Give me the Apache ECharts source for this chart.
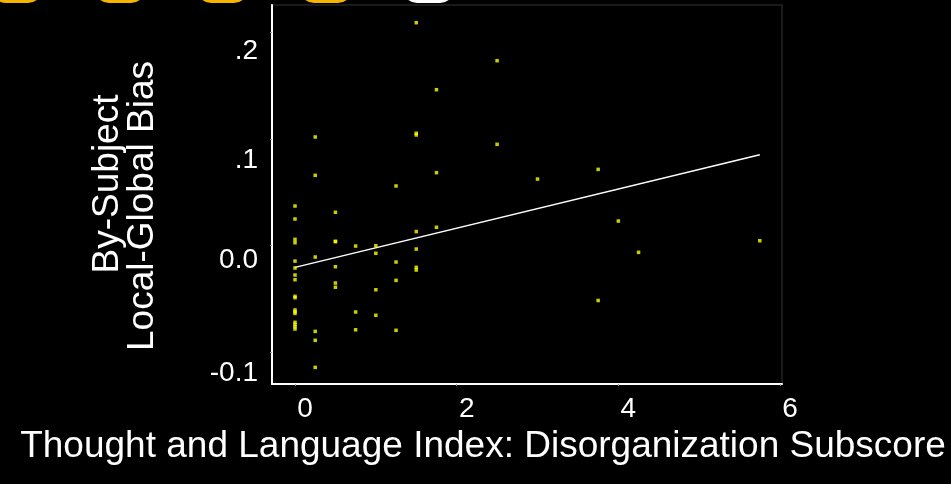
<!DOCTYPE html>
<html>
<head>
<meta charset="utf-8">
<style>
  html, body { margin: 0; padding: 0; background: #000; }
  #chart { width: 951px; height: 484px; }
</style>
<script src="https://cdn.jsdelivr.net/npm/echarts@6/dist/echarts.min.js"></script>
</head>
<body>
<div id="chart"></div>
<script>
// Disorganization subscore per subject (x) and that subject's local-global bias (y)
const disorgScore = [
  0, 0, 0, 0, 0, 0, 0, 0, 0, 0, 0, 0, 0, 0, 0, 0, 0,
  0.25, 0.25, 0.25, 0.25, 0.25, 0.25,
  0.5, 0.5, 0.5, 0.5, 0.5, 0.5,
  0.75, 0.75, 0.75,
  1, 1, 1, 1,
  1.25, 1.25, 1.25, 1.25,
  1.5, 1.5, 1.5, 1.5, 1.5, 1.5, 1.5,
  1.75, 1.75, 1.75,
  2.5, 2.5,
  3,
  3.75, 3.75,
  4,
  4.25,
  5.75
];
const globalBias = [
  0.0371, 0.0249, 0.0058, 0.0026, -0.0146, -0.0211, -0.0277, -0.0321, -0.0477, -0.0490,
  -0.0605, -0.0622, -0.0637, -0.0721, -0.0742, -0.0763, -0.0784,
  0.1019, 0.0659, -0.0108, -0.0806, -0.0890, -0.1144,
  0.0312, 0.0040, 0.0036, -0.0199, -0.0352, -0.0392,
  -0.0005, -0.0624, -0.0791,
  -0.0002, -0.0073, -0.0415, -0.0655,
  0.0559, -0.0155, -0.0327, -0.0796,
  0.2092, 0.1054, 0.1038, 0.0131, -0.0033, -0.0205, -0.0230,
  0.1463, 0.0684, 0.0171,
  0.1735, 0.0950,
  0.0624,
  0.0715, -0.0516,
  0.0230,
  -0.0064,
  0.0045
];

// Least-squares fit line, drawn across the observed score range
const fitX = [0, 5.75];
const fitY = [-0.0205, 0.0853];

const xTicks = [0, 2, 4, 6];
const yTicks = [-0.1, 0, 0.1, 0.2];
const yTickLabels = ['-0.1', '0.0', '.1', '.2'];

const points = disorgScore.map((x, i) => [x, globalBias[i]]);
const fitLine = fitX.map((x, i) => [x, fitY[i]]);

const FONT = "'Liberation Sans', Arial, Helvetica, sans-serif";

// per-label vertical nudges for the y tick labels (rich padding, px)
const yLabelStyle = {
  m0: { padding: [42, 0, 0, 0] },
  m1: { padding: [30, 0, 0, 0] },
  m2: { padding: [42, 0, 0, 0] },
  m3: { padding: [38, 0, 0, 0] }
};

const chart = echarts.init(document.getElementById('chart'), null, { renderer: 'canvas' });

chart.setOption({
  backgroundColor: '#000',
  animation: false,
  grid: {
    left: 272, right: 169, top: 5, bottom: 100,
    show: true, borderColor: '#1a1a1a', borderWidth: 2, backgroundColor: 'transparent'
  },
  xAxis: {
    type: 'value',
    min: -0.2846, max: 6.0247,
    splitLine: { show: false },
    axisLine: { show: true, onZero: false, lineStyle: { color: '#fff', width: 2 } },
    axisTick: { show: true, customValues: xTicks, length: 2, lineStyle: { color: '#999', width: 1 } },
    axisLabel: {
      customValues: xTicks,
      color: '#fff', fontFamily: FONT, fontSize: 28, margin: 11,
      padding: [0, 0, 0, 20],
      formatter: v => String(v)
    }
  },
  yAxis: {
    type: 'value',
    min: -0.1300, max: 0.2258,
    splitLine: { show: false },
    axisLine: { show: true, onZero: false, lineStyle: { color: '#fff', width: 2 } },
    axisTick: { show: true, customValues: yTicks, length: 2, lineStyle: { color: '#999', width: 1 } },
    axisLabel: {
      customValues: yTicks,
      color: '#fff', fontFamily: FONT, fontSize: 28, margin: 14,
      formatter: v => {
        const idx = yTicks.findIndex(t => Math.abs(t - v) < 1e-9);
        return '{m' + idx + '|' + yTickLabels[idx] + '}';
      },
      rich: yLabelStyle
    }
  },
  graphic: [
    // slide buttons peeking in along the top edge
    { type: 'rect', shape: { x: -8, y: -27, width: 50, height: 30, r: 14 }, style: { fill: '#f5b400' } },
    { type: 'rect', shape: { x: 95, y: -27, width: 50, height: 30, r: 14 }, style: { fill: '#f5b400' } },
    { type: 'rect', shape: { x: 197, y: -27, width: 51, height: 30, r: 14 }, style: { fill: '#f5b400' } },
    { type: 'rect', shape: { x: 300, y: -27, width: 52, height: 30, r: 14 }, style: { fill: '#f5b400' } },
    { type: 'rect', shape: { x: 403, y: -27, width: 51, height: 30, r: 14 }, style: { fill: '#ffffff' } },
    {
      type: 'text', x: 108, y: 184, rotation: Math.PI / 2,
      style: { text: 'By-Subject', fill: '#fff', font: '37px ' + FONT, textAlign: 'center', textVerticalAlign: 'middle' }
    },
    {
      type: 'text', x: 143, y: 206, rotation: Math.PI / 2,
      style: { text: 'Local-Global Bias', fill: '#fff', font: '37px ' + FONT, textAlign: 'center', textVerticalAlign: 'middle' }
    },
    {
      type: 'text', x: 483, y: 447,
      style: { text: 'Thought and Language Index: Disorganization Subscore', fill: '#fff', font: '37px ' + FONT, textAlign: 'center', textVerticalAlign: 'middle' }
    }
  ],
  series: [
    {
      type: 'line',
      data: fitLine,
      showSymbol: false,
      symbol: 'none',
      lineStyle: { color: '#ffffff', width: 1.5 },
      z: 2
    },
    {
      type: 'scatter',
      data: points,
      symbol: 'rect',
      symbolSize: 3.5,
      itemStyle: { color: '#ffff00' },
      z: 3
    }
  ]
});
</script>
</body>
</html>
